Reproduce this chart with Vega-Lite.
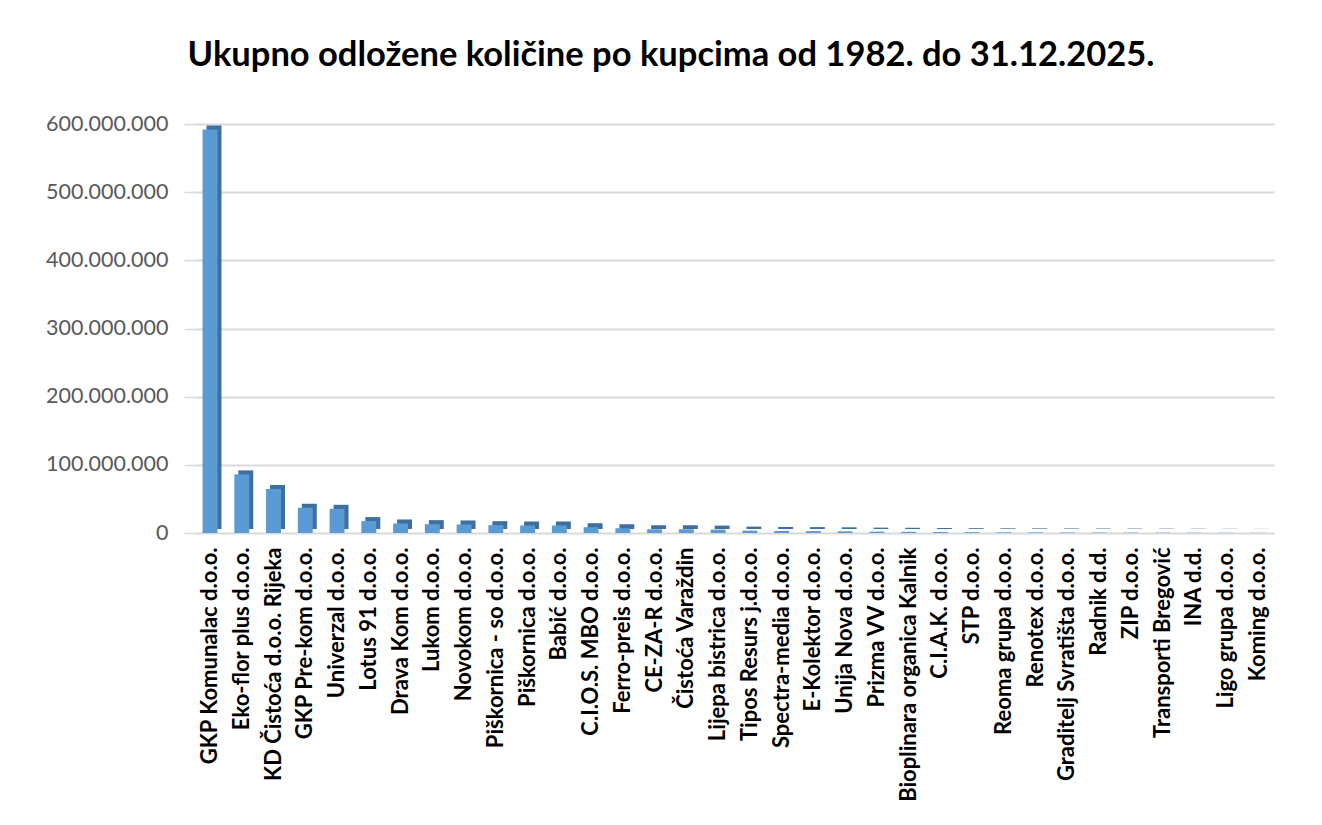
{
  "$schema": "https://vega.github.io/schema/vega-lite/v6.json",
  "autosize": "none",
  "width": 1080,
  "height": 409,
  "padding": {"left": 194, "top": 124, "right": 48, "bottom": 292},
  "background": "white",
  "title": {
    "text": "Ukupno odložene količine po kupcima od 1982. do 31.12.2025.",
    "font": "Lato",
    "fontWeight": "bold",
    "fontSize": 34.5,
    "color": "#000000",
    "anchor": "middle",
    "frame": "group",
    "dx": -63,
    "baseline": "alphabetic",
    "offset": 13
  },
  "data": {
    "values": [
      {"kupac": "GKP Komunalac d.o.o.", "kolicina": 592000000},
      {"kupac": "Eko-flor plus d.o.o.", "kolicina": 86000000},
      {"kupac": "KD Čistoća d.o.o. Rijeka", "kolicina": 64500000},
      {"kupac": "GKP Pre-kom d.o.o.", "kolicina": 37000000},
      {"kupac": "Univerzal d.o.o.", "kolicina": 35500000},
      {"kupac": "Lotus 91 d.o.o.", "kolicina": 17500000},
      {"kupac": "Drava Kom d.o.o.", "kolicina": 14000000},
      {"kupac": "Lukom d.o.o.", "kolicina": 13000000},
      {"kupac": "Novokom d.o.o.", "kolicina": 12500000},
      {"kupac": "Piškornica - so d.o.o.", "kolicina": 11500000},
      {"kupac": "Piškornica d.o.o.", "kolicina": 11000000},
      {"kupac": "Babić d.o.o.", "kolicina": 11000000},
      {"kupac": "C.I.O.S. MBO d.o.o.", "kolicina": 8500000},
      {"kupac": "Ferro-preis d.o.o.", "kolicina": 7000000},
      {"kupac": "CE-ZA-R d.o.o.", "kolicina": 5500000},
      {"kupac": "Čistoća Varaždin", "kolicina": 5500000},
      {"kupac": "Lijepa bistrica d.o.o.", "kolicina": 5000000},
      {"kupac": "Tipos Resurs j.d.o.o.", "kolicina": 3500000},
      {"kupac": "Spectra-media d.o.o.", "kolicina": 3000000},
      {"kupac": "E-Kolektor d.o.o.", "kolicina": 2800000},
      {"kupac": "Unija Nova d.o.o.", "kolicina": 2500000},
      {"kupac": "Prizma VV d.o.o.", "kolicina": 2000000},
      {"kupac": "Bioplinara organica Kalnik", "kolicina": 1800000},
      {"kupac": "C.I.A.K. d.o.o.", "kolicina": 1500000},
      {"kupac": "STP d.o.o.", "kolicina": 1200000},
      {"kupac": "Reoma grupa d.o.o.", "kolicina": 1000000},
      {"kupac": "Renotex d.o.o.", "kolicina": 900000},
      {"kupac": "Graditelj Svratišta d.o.o.", "kolicina": 800000},
      {"kupac": "Radnik d.d.", "kolicina": 700000},
      {"kupac": "ZIP d.o.o.", "kolicina": 600000},
      {"kupac": "Transporti Bregović", "kolicina": 500000},
      {"kupac": "INA d.d.", "kolicina": 400000},
      {"kupac": "Ligo grupa d.o.o.", "kolicina": 300000},
      {"kupac": "Koming d.o.o.", "kolicina": 200000}
    ]
  },
  "encoding": {
    "x": {
      "field": "kupac",
      "type": "nominal",
      "sort": null,
      "scale": {"paddingInner": 0.53, "paddingOuter": 0.27},
      "axis": {
        "title": null,
        "labelAngle": -90,
        "labelFont": "Lato",
        "labelFontWeight": "bold",
        "labelFontSize": 22,
        "labelColor": "#000000",
        "labelPadding": 14,
        "ticks": false,
        "domain": false,
        "labelLimit": 400
      }
    },
    "y": {
      "field": "kolicina",
      "type": "quantitative",
      "scale": {"domain": [0, 600000000], "nice": false},
      "axis": {
        "title": null,
        "values": [0, 100000000, 200000000, 300000000, 400000000, 500000000, 600000000],
        "format": ",d",
        "labelFont": "Lato",
        "labelFontSize": 21.5,
        "labelColor": "#595959",
        "labelPadding": 16,
        "tickSize": 10,
        "tickColor": "#D9D9D9",
        "tickWidth": 1.5,
        "domain": false,
        "grid": true,
        "gridColor": "#D9D9D9",
        "gridWidth": 2
      }
    }
  },
  "layer": [
    {
      "mark": {"type": "bar", "color": "#3F6F9C", "xOffset": 4, "yOffset": -4}
    },
    {
      "mark": {"type": "bar", "color": "#5B9BD5"}
    }
  ],
  "config": {
    "view": {"stroke": null},
    "locale": {
      "number": {"decimal": ",", "thousands": ".", "grouping": [3], "currency": ["", ""]}
    }
  }
}
